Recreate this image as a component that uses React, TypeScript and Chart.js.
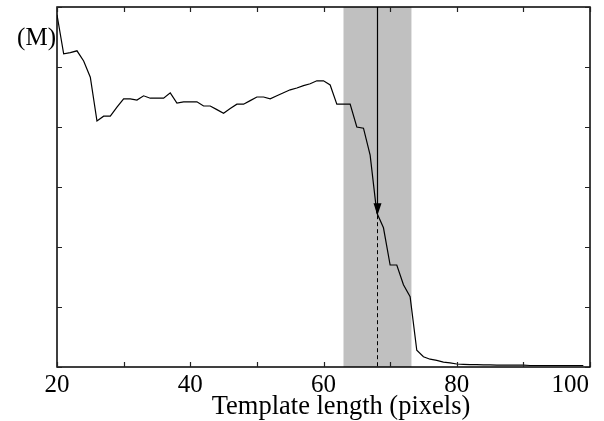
import React, { useEffect, useRef } from "react";
import { Chart, registerables } from "chart.js";

Chart.register(...registerables);

const templateLength = [
  20, 21, 22, 23, 24, 25, 26, 27, 28, 29,
  30, 31, 32, 33, 34, 35, 36, 37, 38, 39,
  40, 41, 42, 43, 44, 45, 46, 47, 48, 49,
  50, 51, 52, 53, 54, 55, 56, 57, 58, 59,
  60, 61, 62, 63, 64, 65, 66, 67, 68, 69,
  70, 71, 72, 73, 74, 75, 76, 77, 78, 79,
  80, 81, 82, 83, 84, 85, 86, 87, 88, 89,
  90, 91, 92, 93, 94, 95, 96, 97, 98, 99,
];

const responseValues = [
  5.87, 5.22, 5.24, 5.27, 5.1, 4.83, 4.1, 4.18, 4.18, 4.33,
  4.47, 4.47, 4.45, 4.52, 4.48, 4.48, 4.48, 4.57, 4.4, 4.42,
  4.42, 4.42, 4.35, 4.35, 4.29, 4.23, 4.31, 4.38, 4.38, 4.44,
  4.5, 4.5, 4.47, 4.52, 4.57, 4.62, 4.65, 4.69, 4.72, 4.77,
  4.77, 4.7, 4.38, 4.38, 4.38, 4.0, 3.98, 3.53, 2.57, 2.32,
  1.7, 1.7, 1.37, 1.17, 0.28, 0.17, 0.13, 0.11, 0.08, 0.07,
  0.05, 0.045, 0.04, 0.04, 0.035, 0.035, 0.03, 0.03, 0.03, 0.03,
  0.03, 0.025, 0.025, 0.025, 0.025, 0.025, 0.025, 0.025, 0.025, 0.025,
];

const xTickValues = [20, 30, 40, 50, 60, 70, 80, 90, 100];
const xTickLabelValues = [20, 40, 60, 80, 100];
const yTickValues = [0, 1, 2, 3, 4, 5, 6];
const bandRange = [63, 73.2];
const arrowX = 68.1;
const arrowTipY = 2.53;
const axisTitle = "Template length (pixels)";
const yUnitLabel = "(M)";

const FONT = '25px "Liberation Serif", "Times New Roman", serif';
const TITLE_FONT = '26.5px "Liberation Serif", "Times New Roman", serif';

const overlayPlugin = {
  id: "overlay",
  beforeDatasetsDraw(chart: any) {
    const { ctx, chartArea, scales } = chart;
    const x0 = scales.x.getPixelForValue(bandRange[0]);
    const x1 = scales.x.getPixelForValue(bandRange[1]);
    ctx.save();
    ctx.fillStyle = "#c0c0c0";
    ctx.fillRect(x0, chartArea.top, x1 - x0, chartArea.bottom - chartArea.top);
    ctx.restore();
  },
  afterDatasetsDraw(chart: any) {
    const { ctx, chartArea, scales } = chart;
    const { left, right, top, bottom } = chartArea;
    const ax = Math.round(scales.x.getPixelForValue(arrowX)) + 0.5;
    const tip = scales.y.getPixelForValue(arrowTipY);
    ctx.save();
    ctx.strokeStyle = "#000";
    ctx.lineWidth = 1.2;
    ctx.beginPath();
    ctx.moveTo(ax, top);
    ctx.lineTo(ax, tip - 10);
    ctx.stroke();
    ctx.fillStyle = "#000";
    ctx.beginPath();
    ctx.moveTo(ax - 4, tip - 12);
    ctx.lineTo(ax + 4, tip - 12);
    ctx.lineTo(ax, tip);
    ctx.closePath();
    ctx.fill();
    ctx.lineWidth = 1;
    ctx.setLineDash([4, 3]);
    ctx.beginPath();
    ctx.moveTo(ax, tip);
    ctx.lineTo(ax, bottom);
    ctx.stroke();
    ctx.setLineDash([]);

    ctx.lineWidth = 1.5;
    ctx.strokeStyle = "#000";
    ctx.strokeRect(left, top, right - left, bottom - top);

    ctx.lineWidth = 1.2;
    ctx.strokeStyle = "#222";
    const tl = 5;
    ctx.beginPath();
    xTickValues.forEach((v) => {
      const px = Math.round(scales.x.getPixelForValue(v)) + 0.5;
      ctx.moveTo(px, bottom);
      ctx.lineTo(px, bottom - tl);
      ctx.moveTo(px, top);
      ctx.lineTo(px, top + tl);
    });
    yTickValues.forEach((v) => {
      const py = Math.round(scales.y.getPixelForValue(v)) + 0.5;
      ctx.moveTo(left, py);
      ctx.lineTo(left + tl, py);
      ctx.moveTo(right, py);
      ctx.lineTo(right - tl, py);
    });
    ctx.stroke();

    ctx.fillStyle = "#000";
    ctx.font = FONT;
    ctx.textBaseline = "alphabetic";
    xTickLabelValues.forEach((v, i) => {
      const px = scales.x.getPixelForValue(v);
      if (i === xTickLabelValues.length - 1) {
        ctx.textAlign = "right";
        ctx.fillText(String(v), px - 1, bottom + 25);
      } else {
        ctx.textAlign = "center";
        ctx.fillText(String(v), px, bottom + 25);
      }
    });
    ctx.textAlign = "right";
    ctx.fillText(yUnitLabel, left - 1, top + 38);
    ctx.font = TITLE_FONT;
    ctx.textAlign = "center";
    ctx.fillText(axisTitle, 341, bottom + 47);
    ctx.restore();
  },
};

export default function App() {
  const canvasRef = useRef<HTMLCanvasElement | null>(null);

  useEffect(() => {
    const canvas = canvasRef.current;
    if (!canvas) return;
    const points = templateLength.map((x, i) => ({ x, y: responseValues[i] }));
    const chart = new Chart(canvas, {
      type: "line",
      data: {
        datasets: [
          {
            data: points,
            borderColor: "#000",
            borderWidth: 1.2,
            pointRadius: 0,
            tension: 0,
            fill: false,
          },
        ],
      },
      options: {
        responsive: false,
        animation: false,
        devicePixelRatio: 1,
        layout: { padding: { left: 57, top: 7, right: 14, bottom: 54 } },
        plugins: { legend: { display: false }, tooltip: { enabled: false } },
        scales: {
          x: { type: "linear", min: 20, max: 100, display: false },
          y: { type: "linear", min: 0, max: 6, display: false },
        },
      },
      plugins: [overlayPlugin],
    });
    return () => chart.destroy();
  }, []);

  return (
    <div style={{ position: "absolute", left: 0, top: 0, width: 604, height: 421, background: "#fff" }}>
      <canvas ref={canvasRef} width={604} height={421} />
    </div>
  );
}
